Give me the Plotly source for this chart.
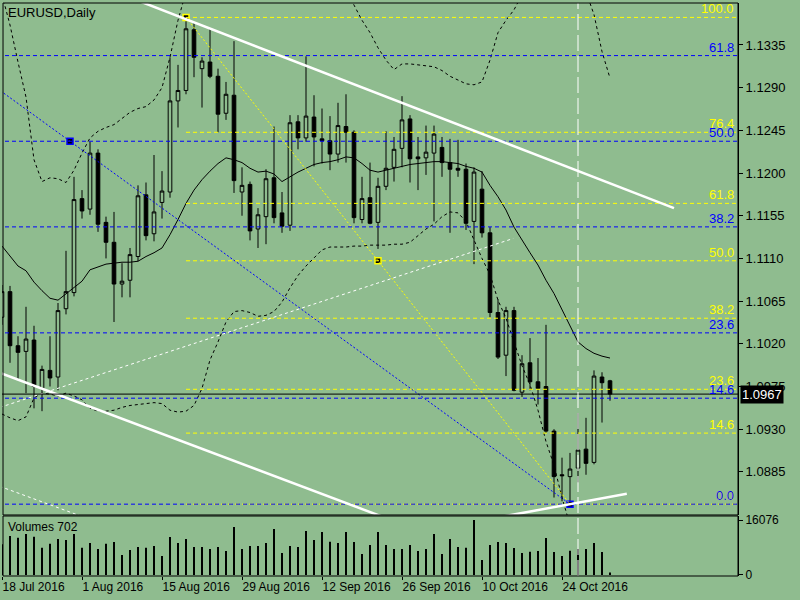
import pandas as pd
import plotly.graph_objects as go

BG = '#8FBC8F'
YELLOW = '#FFFF00'
BLUE = '#0000FF'
FONT = 'Liberation Sans'

# EURUSD daily bars, 18 Jul 2016 .. 1 Nov 2016
dates = pd.bdate_range('2016-07-18', periods=77)
bars = list(range(len(dates)))

opens = [1.1048, 1.1075, 1.1018, 1.1012, 1.1024, 1.0973, 1.0992, 1.0985, 1.1057, 1.1074,
         1.1173, 1.1162, 1.1221, 1.1148, 1.1127, 1.1083, 1.1087, 1.1112, 1.1177, 1.1136,
         1.1169, 1.1180, 1.1276, 1.1287, 1.1351, 1.1310, 1.1317, 1.1302, 1.1263, 1.1282,
         1.1180, 1.1188, 1.1141, 1.1154, 1.1195, 1.1158, 1.1145, 1.1254, 1.1237, 1.1259,
         1.1236, 1.1234, 1.1220, 1.1249, 1.1243, 1.1151, 1.1174, 1.1148, 1.1186, 1.1206,
         1.1226, 1.1257, 1.1217, 1.1216, 1.1221, 1.1227, 1.1211, 1.1205, 1.1204, 1.1149,
         1.1183, 1.1137, 1.1053, 1.1008, 1.1055, 1.0969, 1.1000, 1.0980, 1.0975, 1.0928,
         1.0882, 1.0880, 1.0889, 1.0909, 1.0895, 1.0985, 1.0981]
highs = [1.1082, 1.1081, 1.1028, 1.1059, 1.1039, 1.0997, 1.1028, 1.1063, 1.1118, 1.1196,
         1.1182, 1.1233, 1.1225, 1.1154, 1.1159, 1.1105, 1.1121, 1.1187, 1.1190, 1.1219,
         1.1202, 1.1322, 1.1314, 1.1364, 1.1358, 1.1322, 1.1352, 1.1310, 1.1296, 1.1339,
         1.1206, 1.1191, 1.1163, 1.1204, 1.1249, 1.1180, 1.1261, 1.1261, 1.1323, 1.1282,
         1.1268, 1.1260, 1.1274, 1.1283, 1.1245, 1.1196, 1.1211, 1.1195, 1.1244, 1.1238,
         1.1281, 1.1261, 1.1238, 1.1250, 1.1250, 1.1238, 1.1236, 1.1235, 1.1210, 1.1206,
         1.1202, 1.1143, 1.1067, 1.1059, 1.1059, 1.1008, 1.1026, 1.1005, 1.1040, 1.0930,
         1.0900, 1.0905, 1.0947, 1.0942, 1.0992, 1.0990, 1.0982]
lows = [1.1040, 1.1000, 1.0982, 1.0968, 1.0952, 1.0949, 1.0975, 1.0971, 1.1051, 1.1070,
        1.1152, 1.1156, 1.1138, 1.1110, 1.1043, 1.1069, 1.1069, 1.1107, 1.1129, 1.1128,
        1.1152, 1.1174, 1.1248, 1.1283, 1.1301, 1.1269, 1.1300, 1.1243, 1.1256, 1.1179,
        1.1155, 1.1129, 1.1121, 1.1125, 1.1147, 1.1137, 1.1139, 1.1225, 1.1233, 1.1207,
        1.1210, 1.1203, 1.1211, 1.1211, 1.1147, 1.1147, 1.1146, 1.1120, 1.1182, 1.1191,
        1.1206, 1.1190, 1.1182, 1.1198, 1.1149, 1.1196, 1.1137, 1.1196, 1.1140, 1.1104,
        1.1132, 1.1048, 1.1004, 1.0986, 1.0970, 1.0964, 1.0971, 1.0956, 1.0926, 1.0858,
        1.0854, 1.0851, 1.0874, 1.0882, 1.0893, 1.0937, 1.0960]
closes = [1.1075, 1.1018, 1.1011, 1.1025, 1.0975, 1.0993, 1.0984, 1.1055, 1.1075, 1.1172,
          1.1160, 1.1221, 1.1146, 1.1127, 1.1083, 1.1086, 1.1114, 1.1176, 1.1134, 1.1159,
          1.1181, 1.1276, 1.1287, 1.1352, 1.1322, 1.1318, 1.1302, 1.1262, 1.1283, 1.1192,
          1.1187, 1.1139, 1.1156, 1.1194, 1.1153, 1.1144, 1.1253, 1.1237, 1.1260, 1.1238,
          1.1234, 1.1220, 1.1250, 1.1243, 1.1153, 1.1173, 1.1147, 1.1186, 1.1205, 1.1225,
          1.1256, 1.1215, 1.1215, 1.1222, 1.1241, 1.1211, 1.1204, 1.1203, 1.1147, 1.1201,
          1.1137, 1.1053, 1.1006, 1.1055, 1.0971, 1.0999, 1.0980, 1.0973, 1.0928, 1.0880,
          1.0881, 1.0888, 1.0908, 1.0894, 1.0986, 1.0979, 1.0967]
volumes = [9000, 11400, 10912, 11984, 11205, 7989, 9159, 10523, 10231, 11984,
           7989, 9354, 7600, 9159, 9646, 5846, 7308, 8184, 7989, 8477,
           5554, 11107, 9354, 10523, 8184, 8184, 7600, 8184, 7015, 14030,
           7600, 8477, 8477, 9354, 13446, 6431, 8477, 8184, 12861, 10231,
           12569, 9743, 9354, 12569, 9646, 6138, 8769, 12569, 8769, 7600,
           7600, 8769, 7015, 7600, 11984, 6138, 10523, 8184, 7989, 16076,
           4385, 8769, 9646, 9354, 7892, 6431, 6821, 7015, 10815, 6723,
           5554, 7113, 7600, 7600, 9354, 6723, 702]

# Bollinger bands (None = outside the window)
bb_upper = [1.1388, 1.1356, 1.1317, 1.1280, 1.1214, 1.1191, 1.1195, 1.1194, 1.1190, 1.1203,
            1.1221, 1.1237, 1.1244, 1.1248, 1.1251, 1.1258, 1.1264, 1.1268, 1.1270, 1.1277,
            1.1290, 1.1322, 1.1361, 1.1391, None, None, None, None, None, None,
            None, None, None, None, None, None, None, None, None, None,
            None, None, None, 1.1395, 1.1377, 1.1361, 1.1348, 1.1332, 1.1319, 1.1309,
            1.1315, 1.1315, 1.1314, 1.1313, 1.1312, 1.1308, 1.1302, 1.1298, 1.1294, 1.1293,
            1.1296, 1.1319, 1.1348, 1.1361, 1.1372, 1.1388, None, None, None, None,
            None, None, None, 1.1391, 1.1367, 1.1328, 1.1300]
bb_middle = [1.1123, 1.1113, 1.1102, 1.1097, 1.1085, 1.1076, 1.1068, 1.1066, 1.1073, 1.1080,
             1.1086, 1.1098, 1.1101, 1.1104, 1.1105, 1.1106, 1.1106, 1.1107, 1.1112, 1.1116,
             1.1121, 1.1135, 1.1151, 1.1168, 1.1182, 1.1193, 1.1202, 1.1210, 1.1216, 1.1214,
             1.1211, 1.1205, 1.1201, 1.1202, 1.1199, 1.1191, 1.1196, 1.1201, 1.1205, 1.1209,
             1.1211, 1.1212, 1.1214, 1.1217, 1.1216, 1.1210, 1.1203, 1.1201, 1.1203, 1.1205,
             1.1207, 1.1209, 1.1210, 1.1211, 1.1212, 1.1212, 1.1211, 1.1210, 1.1207, 1.1205,
             1.1201, 1.1187, 1.1175, 1.1161, 1.1143, 1.1129, 1.1116, 1.1103, 1.1087, 1.1073,
             1.1056, 1.1038, 1.1022, 1.1015, 1.1010, 1.1007, 1.1005]
bb_lower = [1.0946, 1.0942, 1.0939, 1.0943, 1.0963, 1.0968, 1.0967, 1.0965, 1.0968, 1.0965,
            1.0961, 1.0952, 1.0949, 1.0949, 1.0950, 1.0953, 1.0955, 1.0956, 1.0957, 1.0958,
            1.0957, 1.0950, 1.0948, 1.0949, 1.0955, 1.0973, 1.1003, 1.1022, 1.1043, 1.1054,
            1.1055, 1.1053, 1.1049, 1.1050, 1.1054, 1.1064, 1.1079, 1.1092, 1.1102, 1.1110,
            1.1119, 1.1122, 1.1122, 1.1122, 1.1123, 1.1123, 1.1124, 1.1124, 1.1124, 1.1125,
            1.1125, 1.1127, 1.1134, 1.1141, 1.1146, 1.1154, 1.1159, 1.1158, 1.1149, 1.1129,
            1.1110, 1.1093, 1.1066, 1.1047, 1.1021, 1.0997, 1.0977, 1.0950, 1.0917, 1.0892,
            1.0858, 1.0829, None, None, None, None, None]

# fibonacci retracements: (bar, price) of the two anchors
fib_levels = [0.0, 14.6, 23.6, 38.2, 50.0, 61.8, 76.4, 100.0]
fib_yellow_bars = (23, 71)
fib_yellow_prices = (1.1364, 1.0851)
fib_blue_bars = (-54, 71)
fib_blue_prices = (1.1616, 1.0851)

# hand-drawn trend lines: bar0, price0, bar1, price1, width, dash
trend_lines = [
    (12, 1.1398, 84, 1.1163, 2.5, 'solid'),
    (-2, 1.0995, 50, 1.0830, 2.5, 'solid'),
    (62, 1.0837, 78.1, 1.0862, 2.5, 'solid'),
    (-0.25, 1.0953, 63.9, 1.1131, 1, '3px,3px'),
    (-1, 1.0872, 10, 1.0838, 1, '3px,3px'),
]
vline_bar = 72
bid = 1.0967
price_ticks = [1.0885, 1.0930, 1.0975, 1.1020, 1.1065, 1.1110,
               1.1155, 1.1200, 1.1245, 1.1290, 1.1335]
date_ticks = [0, 10, 20, 30, 40, 50, 60, 70]

Y_RANGE = [1.08396, 1.13792]
X_RANGE = [0, 92]

fig = go.Figure()
fig.add_trace(go.Candlestick(
    x=bars, open=opens, high=highs, low=lows, close=closes,
    increasing={'line': {'color': 'black', 'width': 1}, 'fillcolor': BG},
    decreasing={'line': {'color': 'black', 'width': 1}, 'fillcolor': 'black'},
    whiskerwidth=0, showlegend=False, hoverinfo='skip'))
for band, dash in [(bb_upper, '3px,3px'), (bb_middle, 'solid'), (bb_lower, '3px,3px')]:
    fig.add_trace(go.Scatter(
        x=bars, y=band, mode='lines', connectgaps=False,
        line={'color': 'black', 'width': 1, 'dash': dash},
        showlegend=False, hoverinfo='skip'))
fig.add_trace(go.Bar(
    x=bars, y=volumes, yaxis='y2', width=0.13,
    marker={'color': 'black', 'line': {'width': 0}},
    showlegend=False, hoverinfo='skip'))

shapes = []
annotations = []


def fib_price(lo, hi, lvl):
    return lo + (hi - lo) * lvl / 100.0


# fibonacci level lines and labels (yellow first, blue on top)
for bars_, prices, color, x_start in [(fib_yellow_bars, fib_yellow_prices, YELLOW, fib_yellow_bars[0]),
                                      (fib_blue_bars, fib_blue_prices, BLUE, -60)]:
    hi, lo = prices
    shapes.append(dict(type='line', xref='x', yref='y',
                       x0=bars_[0], y0=hi, x1=bars_[1], y1=lo,
                       line={'color': color, 'width': 1, 'dash': '2px,2px'}))
    for lvl in fib_levels:
        p = fib_price(lo, hi, lvl)
        shapes.append(dict(type='line', xref='x', yref='y',
                           x0=x_start, x1=95, y0=p, y1=p,
                           line={'color': color, 'width': 1, 'dash': '4px,3px'}))
        if Y_RANGE[0] <= p <= Y_RANGE[1]:
            annotations.append(dict(x=91.7, y=p, xref='x', yref='y', text=f'{lvl:.1f}',
                                    showarrow=False, xanchor='right', yanchor='bottom',
                                    yshift=-1, font={'color': color, 'size': 13, 'family': FONT}))

for x0, y0, x1, y1, w, dash in trend_lines:
    shapes.append(dict(type='line', xref='x', yref='y', x0=x0, y0=y0, x1=x1, y1=y1,
                       line={'color': 'white', 'width': w, 'dash': dash}))

# bid line, period line and panel frames
shapes.append(dict(type='line', xref='paper', yref='y', x0=0, x1=1, y0=bid, y1=bid,
                   line={'color': 'black', 'width': 1}))
shapes.append(dict(type='line', xref='x', yref='paper', x0=vline_bar, x1=vline_bar, y0=0, y1=1,
                   line={'color': 'white', 'width': 1, 'dash': '16px,5px'}))
for ref in ['y domain', 'y2 domain']:
    shapes.append(dict(type='rect', xref='paper', yref=ref, x0=0.0014, x1=1, y0=0, y1=1,
                       line={'color': 'black', 'width': 1}))
fig.update_layout(shapes=shapes)

# anchor markers of the retracements
mid_y = ((fib_yellow_bars[0] + fib_yellow_bars[1]) / 2, (fib_yellow_prices[0] + fib_yellow_prices[1]) / 2)
mid_b = ((fib_blue_bars[0] + fib_blue_bars[1]) / 2, (fib_blue_prices[0] + fib_blue_prices[1]) / 2)
fig.add_trace(go.Scatter(
    x=[fib_yellow_bars[0], mid_y[0]], y=[fib_yellow_prices[0], mid_y[1]], mode='markers',
    marker={'symbol': 'square', 'size': 6, 'color': 'black', 'line': {'color': YELLOW, 'width': 1.5}},
    showlegend=False, hoverinfo='skip'))
fig.add_trace(go.Scatter(
    x=[fib_blue_bars[1], mid_b[0]], y=[fib_blue_prices[1], mid_b[1]], mode='markers',
    marker={'symbol': 'square', 'size': 6, 'color': 'black', 'line': {'color': BLUE, 'width': 1.5}},
    showlegend=False, hoverinfo='skip'))

annotations += [
    dict(x=0.006, y=0.984, xref='paper', yref='paper', text='EURUSD,Daily', showarrow=False,
         xanchor='left', yanchor='middle', font={'size': 13, 'color': 'black', 'family': FONT}),
    dict(x=0.005, y=0.085, xref='paper', yref='paper', text='Volumes 702', showarrow=False,
         xanchor='left', yanchor='middle', font={'size': 12, 'color': 'black', 'family': FONT}),
    dict(x=1, y=bid, xref='paper', yref='y', text=f'{bid:.4f}', showarrow=False,
         xanchor='left', yanchor='middle', xshift=2, bgcolor='black', borderpad=1,
         font={'size': 13, 'color': 'white', 'family': FONT}),
]

date_text = [f"{dates[i].day} {dates[i].strftime('%b %Y')}" for i in date_ticks]

fig.update_layout(
    width=800, height=600,
    margin={'l': 2, 'r': 62, 't': 3, 'b': 24},
    paper_bgcolor=BG, plot_bgcolor=BG,
    font={'family': FONT, 'size': 12, 'color': 'black'},
    boxgap=0.35,
    annotations=annotations,
    xaxis={
        'range': X_RANGE, 'anchor': 'y2', 'showgrid': False, 'zeroline': False,
        'rangeslider': {'visible': False},
        'tickvals': date_ticks, 'ticktext': date_text,
        'ticks': 'outside', 'ticklen': 3, 'tickcolor': 'black',
        'ticklabelposition': 'outside right', 'automargin': False,
        'tickfont': {'size': 12},
    },
    yaxis={
        'domain': [0.1065, 1], 'range': Y_RANGE, 'side': 'right',
        'showgrid': False, 'zeroline': False,
        'tickvals': price_ticks, 'tickformat': '.4f',
        'ticks': 'outside', 'ticklen': 4, 'tickcolor': 'black',
        'showline': True, 'linecolor': 'black', 'automargin': False,
        'tickfont': {'size': 13},
    },
    yaxis2={
        'domain': [0, 0.1047], 'range': [-292, 17245], 'side': 'right',
        'showgrid': False, 'zeroline': False,
        'tickvals': [0, 16076], 'ticktext': ['0', '16076'],
        'ticks': 'outside', 'ticklen': 4, 'tickcolor': 'black',
        'showline': True, 'linecolor': 'black', 'automargin': False,
        'tickfont': {'size': 12},
    },
)

# the page body has a default margin; drop it so the figure fills the window
fig.write_html('out.html', config={'displayModeBar': False},
               post_script="document.body.style.margin='0';")
